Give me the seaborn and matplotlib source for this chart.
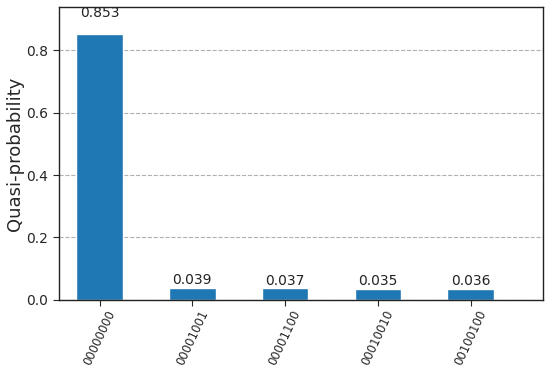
import matplotlib
matplotlib.use("Agg")
import matplotlib.pyplot as plt
import seaborn as sns
import pandas as pd

# bitstrings and their quasi-probabilities
states = ["00000000", "00001001", "00001100", "00010010", "00100100"]
probs = [0.853, 0.039, 0.037, 0.035, 0.036]

df = pd.DataFrame({"state": states, "prob": probs})

sns.set_style("white")
plt.rcParams["font.family"] = ["DejaVu Sans"]
fig = plt.figure(figsize=(5.5, 3.68), dpi=100)
ax = fig.add_axes([0.107, 0.185, 0.88, 0.796])

sns.barplot(data=df, x="state", y="prob", order=states, color="#1f77b4",
            saturation=1, width=0.5, ax=ax, zorder=2)

# labels sit at 1.05 x bar height, like qiskit's histogram
for i, p in enumerate(probs):
    ax.text(i, p * 1.05, f"{p:.3f}", ha="center", va="bottom", fontsize=10, color="#222222")

ax.set_xlim(-0.44, 4.78)
ax.set_ylim(0, max(probs) * 1.1)
ax.set_yticks([0.0, 0.2, 0.4, 0.6, 0.8])
ax.yaxis.grid(True, linestyle="--", color="#b0b0b0", linewidth=0.8, zorder=0)
ax.set_axisbelow(True)
ax.set_xlabel("")
ax.set_ylabel("Quasi-probability", fontsize=13, labelpad=2)
ax.tick_params(axis="y", labelsize=10, left=True, length=4)
ax.tick_params(axis="x", labelsize=8.5, bottom=True, length=4, pad=2)
plt.setp(ax.get_xticklabels(), rotation=65, ha="center")
for s in ax.spines.values():
    s.set_color("#222222")
    s.set_linewidth(1)

fig.savefig("out.png", dpi=100)
